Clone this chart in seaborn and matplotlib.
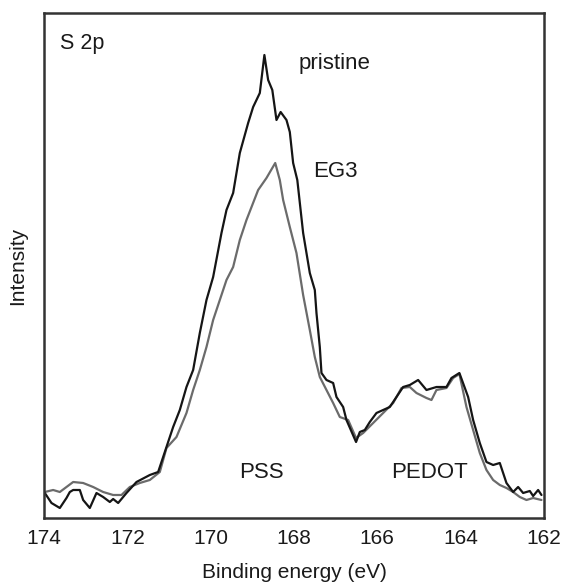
import numpy as np
import pandas as pd
import seaborn as sns
import matplotlib
matplotlib.use("Agg")
import matplotlib.pyplot as plt

# binding energy (eV) and intensity (arb. units)
pristine_be = [173.98, 173.82, 173.62, 173.46, 173.38, 173.30, 173.14, 173.06, 172.90, 172.74,
               172.58, 172.42, 172.34, 172.22, 172.02, 171.78, 171.46, 171.26, 171.06, 170.90,
               170.74, 170.58, 170.42, 170.26, 170.10, 169.94, 169.74, 169.62, 169.46, 169.30,
               169.10, 168.98, 168.82, 168.71, 168.62, 168.52, 168.42, 168.32, 168.18, 168.10,
               168.02, 167.92, 167.78, 167.62, 167.50, 167.46, 167.38, 167.34, 167.22, 167.06,
               166.98, 166.82, 166.74, 166.51, 166.42, 166.30, 166.18, 166.02, 165.86, 165.70,
               165.54, 165.38, 165.22, 165.02, 164.82, 164.58, 164.34, 164.22, 164.03, 163.82,
               163.70, 163.54, 163.38, 163.22, 163.06, 162.90, 162.74, 162.62, 162.50, 162.34,
               162.26, 162.14, 162.06]
pristine_int = [25, 15, 10, 20, 26, 28, 28, 18, 10, 25,
                21, 16, 19, 15, 25, 36, 43, 46, 71, 91,
                108, 131, 148, 185, 218, 241, 285, 308, 325, 365,
                395, 411, 425, 463, 438, 428, 398, 406, 398, 386,
                355, 338, 285, 245, 228, 205, 171, 145, 138, 135,
                121, 111, 98, 76, 86, 88, 96, 105, 108, 111,
                121, 131, 133, 138, 128, 131, 131, 140, 145, 121,
                98, 75, 56, 53, 55, 35, 26, 31, 25, 27,
                22, 28, 23]

eg3_be = [173.98, 173.78, 173.62, 173.46, 173.30, 173.06, 172.82, 172.58, 172.34, 172.14,
          171.94, 171.70, 171.46, 171.22, 171.06, 170.82, 170.58, 170.42, 170.26, 170.10,
          169.94, 169.78, 169.62, 169.46, 169.30, 169.14, 168.86, 168.66, 168.45, 168.34,
          168.26, 168.10, 167.94, 167.78, 167.62, 167.50, 167.38, 167.22, 167.06, 166.90,
          166.70, 166.51, 166.34, 166.10, 165.86, 165.62, 165.42, 165.22, 165.06, 164.82,
          164.70, 164.58, 164.34, 164.18, 164.03, 163.86, 163.70, 163.54, 163.38, 163.22,
          163.06, 162.90, 162.74, 162.58, 162.42, 162.26, 162.06]
eg3_int = [26, 28, 26, 31, 36, 35, 31, 26, 23, 23,
           31, 35, 38, 46, 70, 81, 105, 128, 148, 171,
           198, 218, 238, 251, 278, 298, 328, 340, 355, 338,
           318, 291, 265, 223, 188, 161, 141, 128, 115, 101,
           98, 80, 85, 95, 105, 115, 130, 131, 125, 120,
           118, 128, 130, 140, 144, 111, 88, 65, 48, 38,
           33, 30, 26, 21, 18, 20, 18]

xticks = [174, 172, 170, 168, 166, 164, 162]

sns.set_style("white")
plt.rcParams['font.family'] = ['Liberation Sans', 'DejaVu Sans']
plt.rcParams['text.color'] = '#1a1a1a'
plt.rcParams['axes.labelcolor'] = '#1a1a1a'

fig = plt.figure(figsize=(5.69, 5.83), dpi=100)
ax = fig.add_axes([0.0773, 0.1115, 0.8787, 0.8662])

df_p = pd.DataFrame({'be': pristine_be, 'intensity': pristine_int})
df_e = pd.DataFrame({'be': eg3_be, 'intensity': eg3_int})
sns.lineplot(data=df_e, x='be', y='intensity', ax=ax, color='#6b6b6b', linewidth=1.6, sort=False)
sns.lineplot(data=df_p, x='be', y='intensity', ax=ax, color='#151515', linewidth=1.6, sort=False)

ax.set_xlim(174, 162)
ax.set_ylim(0, 505)
ax.set_xticks(xticks)
ax.set_xticklabels([str(t) for t in xticks], fontsize=15, color='#1a1a1a')
ax.set_yticks([])
ax.tick_params(axis='x', direction='in', length=10, width=1, color='#333333', pad=8)
for s in ax.spines.values():
    s.set_linewidth(1.8)
    s.set_color('#333333')

ax.set_xlabel('Binding energy (eV)', fontsize=15, labelpad=11)
ax.set_ylabel('Intensity', fontsize=15, labelpad=12)

ax.text(0.032, 0.94, 'S 2p', transform=ax.transAxes, fontsize=15.5, va='center', ha='left')
ax.text(167.88, 455, 'pristine', fontsize=16, va='center', ha='left')
ax.text(167.54, 346, 'EG3', fontsize=16, va='center', ha='left')
ax.text(168.79, 45, 'PSS', fontsize=16, va='center', ha='center')
ax.text(164.75, 45, 'PEDOT', fontsize=16, va='center', ha='center')

fig.savefig('out.png', dpi=100)
